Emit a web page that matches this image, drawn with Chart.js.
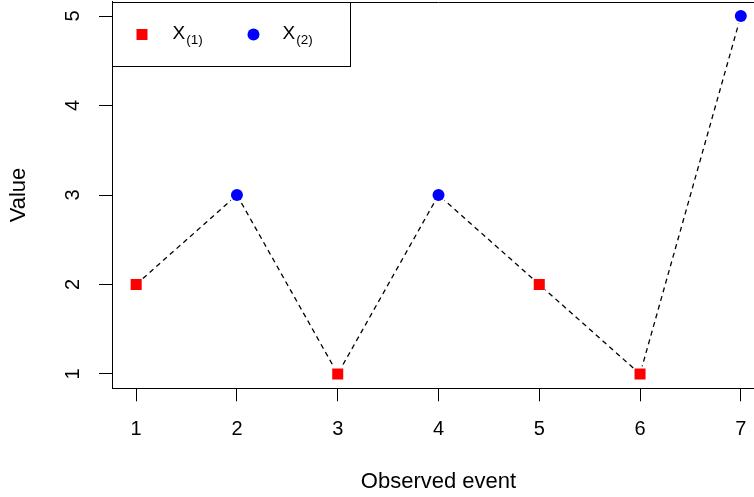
<!DOCTYPE html>
<html>
<head>
<meta charset="utf-8">
<script src="https://cdn.jsdelivr.net/npm/chart.js@4.4.1/dist/chart.umd.min.js"></script>
<style>
html, body { margin: 0; padding: 0; background: #fff; overflow: hidden; }
#wrap { width: 754px; height: 497px; overflow: hidden; }
</style>
</head>
<body>
<div id="wrap"><canvas id="myChart" width="766" height="497"></canvas></div>
<script>
const events = [1, 2, 3, 4, 5, 6, 7]
const values = [2, 3, 1, 3, 2, 1, 5]
const group = [1, 2, 1, 2, 1, 1, 2]
const xTicks = [1, 2, 3, 4, 5, 6, 7]
const yTicks = [1, 2, 3, 4, 5]
const seriesSubs = ["(1)", "(2)"]
const xTitle = "Observed event"
const yTitle = "Value"

const canvas = document.querySelector("#myChart")
const FONT = "'Liberation Sans', Arial, sans-serif"

Chart.defaults.font.family = FONT
Chart.defaults.font.size = 20
Chart.defaults.color = "#000"

const pointsOf = (g) => events
    .map((x, i) => ({ x, y: values[i], g: group[i] }))
    .filter((p) => p.g === g)

// no extra room for label overhang, the box is placed like in R
const noPad = (s) => {
    s.paddingTop = 0
    s.paddingBottom = 0
    s.paddingLeft = 0
    s.paddingRight = 0
}

// R-style frame, rotated y labels, titles and legend
const rStyle = {
    id: "rStyle",
    afterDraw(chart) {
        const ctx = chart.ctx
        const area = chart.chartArea
        const yScale = chart.scales.y
        ctx.save()

        // top border of the box
        ctx.strokeStyle = "#000"
        ctx.lineWidth = 1
        ctx.beginPath()
        ctx.moveTo(area.left, Math.round(area.top) + 0.5)
        ctx.lineTo(area.right, Math.round(area.top) + 0.5)
        ctx.stroke()

        // y tick labels, rotated like R
        ctx.fillStyle = "#000"
        ctx.font = "20px " + FONT
        ctx.textAlign = "center"
        ctx.textBaseline = "middle"
        yTicks.forEach((v) => {
            const y = yScale.getPixelForValue(v)
            ctx.save()
            ctx.translate(73, y)
            ctx.rotate(-Math.PI / 2)
            ctx.fillText(String(v), 0, 0)
            ctx.restore()
        })

        // axis titles
        ctx.font = "22px " + FONT
        ctx.fillText(xTitle, (area.left + area.right) / 2, 482)
        ctx.save()
        ctx.translate(19, (area.top + area.bottom) / 2)
        ctx.rotate(-Math.PI / 2)
        ctx.fillText(yTitle, 0, 0)
        ctx.restore()

        // legend box (topleft)
        const bx = area.left + 0.5, by = Math.round(area.top) + 0.5
        ctx.fillStyle = "#fff"
        ctx.fillRect(bx, by, 238, 64)
        ctx.strokeRect(bx, by, 238, 64)

        const rowY = 34.5
        const markX = [area.left + 30, area.left + 141.5]
        const textX = [area.left + 60.5, area.left + 170.5]
        chart.data.datasets.filter((d) => d.legend).forEach((d, i) => {
            ctx.fillStyle = d.backgroundColor
            ctx.beginPath()
            if (d.pointStyle === "rect") {
                ctx.rect(markX[i] - 5.5, rowY - 5.5, 11, 11)
            } else {
                ctx.arc(markX[i], rowY, 6, 0, Math.PI * 2)
            }
            ctx.fill()

            ctx.fillStyle = "#000"
            ctx.textAlign = "left"
            ctx.textBaseline = "alphabetic"
            ctx.font = "19px " + FONT
            ctx.fillText("X", textX[i], 38.5)
            const w = ctx.measureText("X").width
            ctx.font = "13.5px " + FONT
            ctx.fillText(seriesSubs[i], textX[i] + w + 1, 43.5)
        })
        ctx.restore()
    }
}

const config = {
    type: "scatter",
    data: {
        datasets: [
            {
                label: "X(1)",
                legend: true,
                data: pointsOf(1),
                pointStyle: "rect",
                pointRadius: 7.8,
                backgroundColor: "#ff0000",
                borderColor: "#ff0000",
                borderWidth: 0,
                order: 1
            },
            {
                label: "X(2)",
                legend: true,
                data: pointsOf(2),
                pointStyle: "circle",
                pointRadius: 6,
                backgroundColor: "#0000ff",
                borderColor: "#0000ff",
                borderWidth: 0,
                order: 1
            },
            {
                label: "path",
                data: events.map((x, i) => ({ x, y: values[i] })),
                showLine: true,
                borderColor: "#000",
                borderWidth: 1.3,
                borderDash: [5, 4],
                // white disks leave the small gaps R draws around points (type = "b")
                pointRadius: 8,
                pointBackgroundColor: "#fff",
                pointBorderWidth: 0,
                order: 2
            }
        ]
    },
    options: {
        responsive: false,
        devicePixelRatio: 1,
        animation: false,
        events: [],
        layout: { autoPadding: false, padding: { top: 1.7, right: 1, left: 0, bottom: 0 } },
        plugins: {
            legend: { display: false },
            tooltip: { enabled: false }
        },
        scales: {
            x: {
                type: "linear",
                min: 0.76,
                max: 7.24,
                afterBuildTicks: (s) => { s.ticks = xTicks.map((v) => ({ value: v })) },
                afterFit: (s) => { s.height = 108.7; noPad(s) },
                grid: { drawOnChartArea: false, drawTicks: true, tickLength: 13, tickColor: "#000", color: "#000" },
                border: { display: true, color: "#000", width: 1 },
                ticks: { padding: 16, maxRotation: 0, autoSkip: false, font: { size: 20 } }
            },
            y: {
                type: "linear",
                min: 0.84,
                max: 5.16,
                afterBuildTicks: (s) => { s.ticks = yTicks.map((v) => ({ value: v })) },
                afterFit: (s) => { s.width = 112; noPad(s) },
                grid: { drawOnChartArea: false, drawTicks: true, tickLength: 13, tickColor: "#000", color: "#000" },
                border: { display: true, color: "#000", width: 1 },
                ticks: { display: false }
            }
        }
    },
    plugins: [rStyle]
}

new Chart(canvas, config)
</script>
</body>
</html>
